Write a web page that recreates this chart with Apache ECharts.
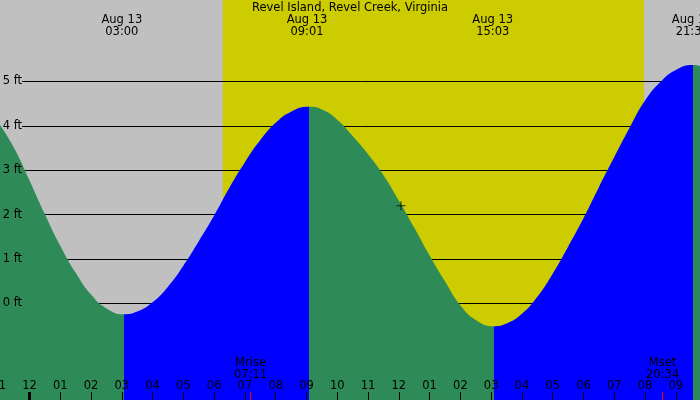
<!DOCTYPE html>
<html>
<head>
<meta charset="utf-8">
<script src="https://cdn.jsdelivr.net/npm/echarts@6/dist/echarts.min.js"></script>
<style>
  html, body { margin: 0; padding: 0; background: #c0c0c0; }
  #chart { width: 700px; height: 400px; }
</style>
</head>
<body>
<div id="chart"></div>
<script>
// tide height (ft) by hour of Aug 13
const tideHours = [-0.96, -0.5, 0.0, 0.5, 1.0, 1.5, 2.0, 2.5, 3.07,
  3.5, 4.0, 4.5, 5.0, 5.5, 6.0, 6.5, 7.0, 7.5, 8.0, 8.5, 9.08,
  9.5, 10.0, 10.5, 11.0, 11.5, 12.0, 12.5, 13.0, 13.5, 14.0, 14.5, 15.09,
  15.5, 16.0, 16.5, 17.0, 17.5, 18.0, 18.5, 19.0, 19.5, 20.0, 20.5, 21.0, 21.56, 21.79];
const tideFeet = [4.02, 3.5, 2.77, 2.01, 1.30, 0.69, 0.20, -0.11, -0.24,
  -0.18, 0.03, 0.38, 0.85, 1.40, 1.98, 2.61, 3.18, 3.68, 4.07, 4.32, 4.43,
  4.37, 4.14, 3.77, 3.36, 2.89, 2.32, 1.71, 1.08, 0.50, -0.04, -0.37, -0.51,
  -0.45, -0.23, 0.15, 0.67, 1.28, 1.92, 2.62, 3.30, 3.96, 4.57, 4.99, 5.26, 5.37, 5.35];
// high / low turning points: falling water is green, rising is blue
const turnHours = [3.07, 9.08, 15.09, 21.56];

const levelFeet = [0, 1, 2, 3, 4, 5];
const hourLabels = ['11', '12', '01', '02', '03', '04', '05', '06', '07', '08', '09', '10', '11',
  '12', '01', '02', '03', '04', '05', '06', '07', '08', '09', '10'];  // hours -1 .. 22

const tideDate = 'Aug 13';
const tideTimeHours = [3.0, 9.017, 15.05, 21.533];
const tideTimeLabels = ['03:00', '09:01', '15:03', '21:32'];

const sunrise = 6.28, sunset = 19.96;
const moonHours = [7.183, 20.567];
const moonLabels = ['Mrise\n07:11', 'Mset\n20:34'];
const nowPoint = [12.07, 2.2];

const font = 'DejaVu Sans';
const GREEN = '#2e8b57', BLUE = '#0000ff';

const pieces = [];
let prev = null;
turnHours.forEach((t, i) => {
  const p = { lt: t, color: i % 2 ? BLUE : GREEN };
  if (prev != null) p.gte = prev;
  pieces.push(p);
  prev = t;
});
pieces.push({ gte: prev, color: turnHours.length % 2 ? BLUE : GREEN });

const tideData = tideHours.map((h, i) => [h, tideFeet[i]]);

const txt = { color: '#000', fontFamily: font, fontSize: 11.5 };
const bareAxis = {
  type: 'value', min: -1, max: 22, z: 10,
  axisLine: { show: false, onZero: false }, splitLine: { show: false }
};

const chart = echarts.init(document.getElementById('chart'));
chart.setOption({
  backgroundColor: '#c0c0c0',
  animation: false,
  title: {
    text: 'Revel Island, Revel Creek, Virginia',
    left: 'center', top: 2, padding: 0,
    textStyle: { color: '#000', fontFamily: font, fontSize: 11.5, fontWeight: 'normal' }
  },
  grid: { left: -1.28, right: -6.6, top: 0, bottom: 0, containLabel: false, outerBoundsMode: 'none' },
  xAxis: [
    Object.assign({}, bareAxis, {
      position: 'bottom', interval: 1,
      axisTick: { inside: true, length: 8, lineStyle: { color: '#000', width: 1 } },
      axisLabel: Object.assign({ inside: true, margin: 8, formatter: v => hourLabels[Math.round(v) + 1] }, txt)
    }),
    Object.assign({}, bareAxis, {
      position: 'top',
      axisTick: { show: false },
      axisLabel: Object.assign({
        inside: true, margin: 14, lineHeight: 12, customValues: tideTimeHours,
        formatter: v => tideDate + '\n' + tideTimeLabels[tideTimeHours.indexOf(v)]
      }, txt)
    }),
    Object.assign({}, bareAxis, {
      position: 'bottom',
      axisTick: { inside: true, length: 8, customValues: moonHours, lineStyle: { color: '#ff0000', width: 1 } },
      axisLabel: Object.assign({
        inside: true, margin: 19, lineHeight: 12, customValues: moonHours,
        formatter: v => moonLabels[moonHours.indexOf(v)]
      }, txt)
    }),
    Object.assign({}, bareAxis, {
      position: 'bottom',
      axisTick: { inside: true, length: 8, customValues: [0], lineStyle: { color: '#000', width: 3 } },
      axisLabel: { show: false }
    })
  ],
  yAxis: {
    type: 'value', min: -2.1734, max: 6.8356, position: 'left', z: 10,
    axisLine: { show: false, onZero: false }, axisTick: { show: false }, splitLine: { show: false },
    axisLabel: Object.assign({ inside: true, margin: 4, customValues: levelFeet, formatter: '{value} ft' }, txt)
  },
  visualMap: { show: false, type: 'piecewise', dimension: 0, seriesIndex: 0, pieces: pieces },
  series: [
    {
      type: 'line',
      data: tideData,
      smooth: true,
      showSymbol: false,
      lineStyle: { width: 0 },
      areaStyle: { opacity: 1, origin: 'start' },
      z: 3,
      silent: true,
      markArea: {
        z: 1, silent: true,
        itemStyle: { color: '#cccc00', opacity: 1 },
        data: [[{ xAxis: sunrise }, { xAxis: sunset }]]
      },
      markLine: {
        z: 2, silent: true, symbol: ['none', 'none'],
        lineStyle: { color: '#000', width: 1, type: 'solid', opacity: 1 },
        label: { show: false },
        emphasis: { disabled: true },
        data: levelFeet.map(v => [{ coord: [-0.24, v] }, { coord: [22, v] }])
      }
    },
    {
      type: 'scatter',
      data: [nowPoint],
      symbol: 'path://M0,4 H9 V5 H0 Z M4,0 H5 V9 H4 Z',
      symbolSize: 9,
      itemStyle: { color: '#000' },
      z: 4,
      silent: true
    }
  ]
});
</script>
</body>
</html>
